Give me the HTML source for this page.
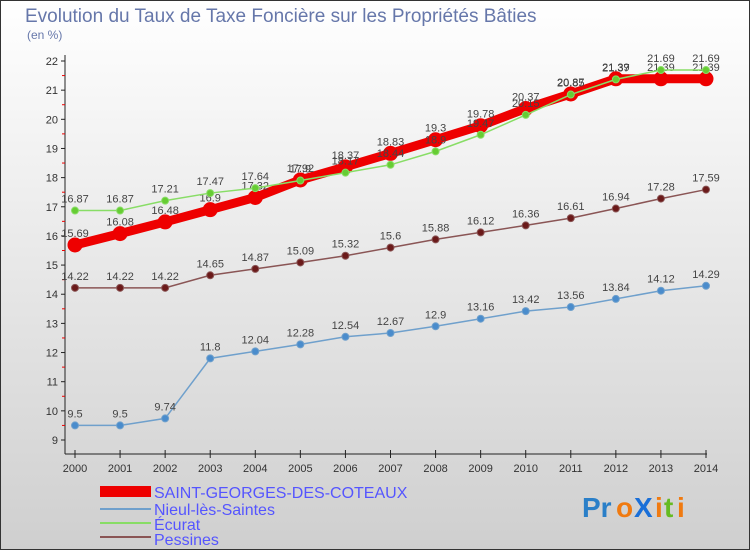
<!DOCTYPE html>
<html><head><meta charset="utf-8"><style>
body{margin:0;}
#c{width:750px;height:550px;position:relative;overflow:hidden;font-family:"Liberation Sans",sans-serif;}
</style></head><body>
<div id="c">
<svg id="s" width="750" height="550" xmlns="http://www.w3.org/2000/svg">
<defs><linearGradient id="bg" x1="0" y1="0" x2="0" y2="1"><stop offset="0" stop-color="#ffffff"/><stop offset="1" stop-color="#cfcfcf"/></linearGradient></defs>
<rect x="0.5" y="0.5" width="749" height="549" fill="url(#bg)" stroke="#333"/>
<text x="25" y="22" font-size="19" fill="#6677aa">Evolution du Taux de Taxe Foncière sur les Propriétés Bâties</text>
<text x="27" y="39" font-size="12" fill="#6677aa">(en %)</text>
<g id="axes"></g><g id="series"></g>
<g>
<rect x="100" y="486" width="51" height="11" fill="#ee0000"/>
<text x="154" y="498" font-size="16" fill="#5555ff">SAINT-GEORGES-DES-COTEAUX</text>
<rect x="100" y="508" width="51" height="2" fill="#6fa0cc"/>
<text x="154" y="515" font-size="16" fill="#5555ff">Nieul-lès-Saintes</text>
<rect x="100" y="522" width="51" height="2" fill="#88dd66"/>
<text x="154" y="530" font-size="16" fill="#5555ff">Écurat</text>
<rect x="100" y="536" width="51" height="2" fill="#8a5555"/>
<text x="154" y="545" font-size="16" fill="#5555ff">Pessines</text>
</g>
<g font-size="28" font-weight="bold">
<text x="582" y="517" fill="#2a7fc8">Pr</text><text x="616" y="517" fill="#f07a10">o</text><text x="634" y="517" fill="#1a6fd8">X</text><text x="655" y="517" fill="#f07a10">i</text><text x="664" y="517" fill="#66bb22">t</text><text x="677" y="517" fill="#f07a10">i</text>
</g>
</svg>
</div>
<script>
const years=[2000,2001,2002,2003,2004,2005,2006,2007,2008,2009,2010,2011,2012,2013,2014];
const saintGeorges=[15.69,16.08,16.48,16.9,17.32,17.92,18.37,18.83,19.3,19.78,20.37,20.87,21.39,21.39,21.39];
const nieul=[9.5,9.5,9.74,11.8,12.04,12.28,12.54,12.67,12.9,13.16,13.42,13.56,13.84,14.12,14.29];
const ecurat=[16.87,16.87,17.21,17.47,17.64,17.9,18.17,18.44,18.9,19.47,20.15,20.85,21.37,21.69,21.69];
const pessines=[14.22,14.22,14.22,14.65,14.87,15.09,15.32,15.6,15.88,16.12,16.36,16.61,16.94,17.28,17.59];
const yTicks=[9,10,11,12,13,14,15,16,17,18,19,20,21,22];
const NS="http://www.w3.org/2000/svg";
const X=i=>75+i*(706-75)/(years.length-1);
const Y=v=>440-(v-9)*(440-61)/13;
function mk(t,a,p){const e=document.createElementNS(NS,t);for(const k in a)e.setAttribute(k,a[k]);p.appendChild(e);return e;}
const ax=document.getElementById('axes');
const yl=mk('line',{x1:65,y1:55,x2:65,y2:454,stroke:'#222'},ax);


const xl=mk('line',{x1:65,y1:454,x2:707,y2:454,stroke:'#222'},ax);


yTicks.forEach(v=>{
 mk('line',{x1:61,y1:Y(v),x2:65,y2:Y(v),stroke:'#222'},ax);
 if(v<22) mk('line',{x1:62,y1:Y(v+0.5),x2:65,y2:Y(v+0.5),stroke:'#e00'},ax);
 const t=mk('text',{x:58,y:Y(v)+4,'font-size':11,fill:'#333','text-anchor':'end'},ax);t.textContent=v;
 
 
});
years.forEach((y,i)=>{
 mk('line',{x1:X(i),y1:450,x2:X(i),y2:458,stroke:'#222'},ax);
 const t=mk('text',{x:X(i),y:472,'font-size':11,fill:'#333','text-anchor':'middle'},ax);t.textContent=y;
 
 
});
const sg=document.getElementById('series');
function draw(vals,name,color,dot,w,r,dx){
 const g=mk('g',{},sg);
 
 
 mk('polyline',{points:vals.map((v,i)=>X(i)+','+Y(v)).join(' '),fill:'none',stroke:color,'stroke-width':w},g);
 vals.forEach((v,i)=>{
  const c=mk('circle',{cx:X(i),cy:Y(v),r:r,fill:dot,stroke:color,'stroke-width':1},g);
  
  
  const t=mk('text',{x:X(i),y:Y(v)-8,'font-size':11,fill:'#444','text-anchor':'middle'},g);t.textContent=v;
  
  
 });
}
draw(nieul,'nieul','#6fa0cc','#4a8ccc',1.5,3.5);
draw(pessines,'pessines','#8a5555','#6b1a1a',1.5,3.5);
draw(saintGeorges,'saint-georges','#ee0000','#ee0000',9,7);
draw(ecurat,'ecurat','#88dd66','#66cc33',1.5,3.5);
</script>
</body></html>
